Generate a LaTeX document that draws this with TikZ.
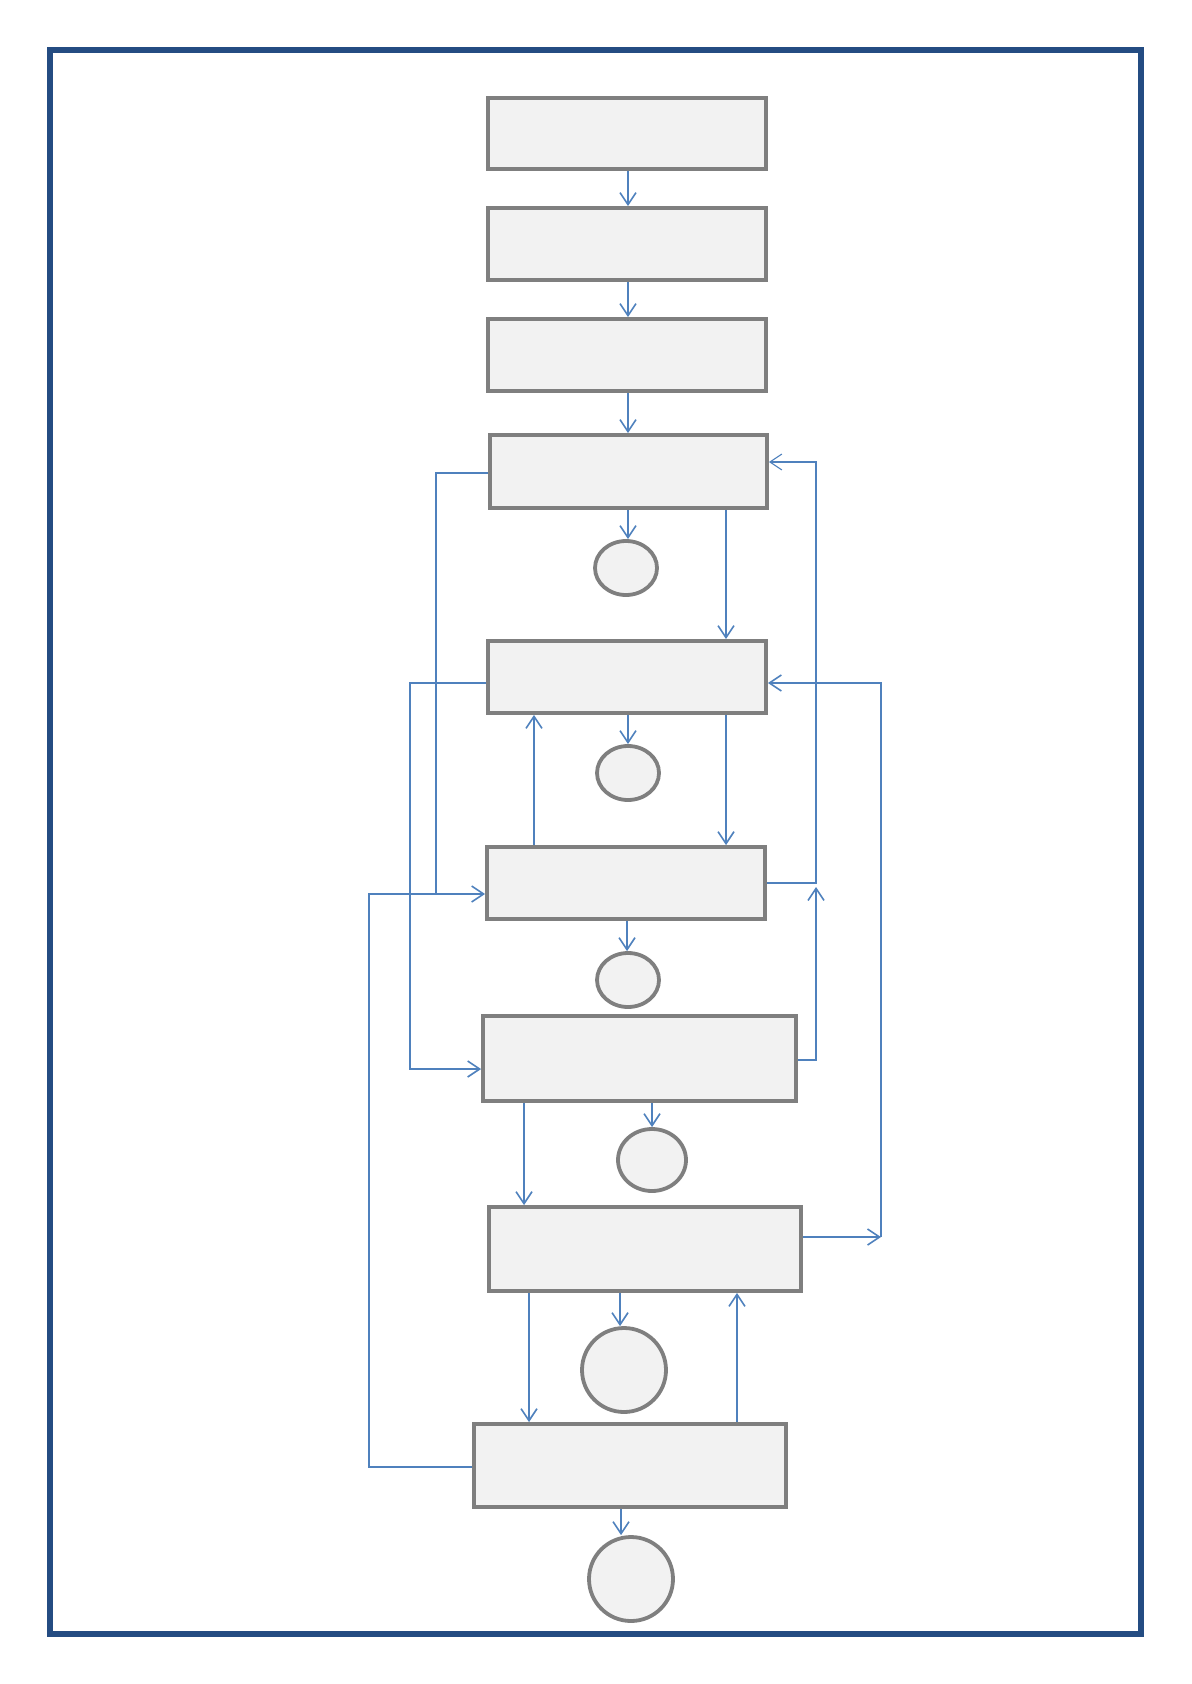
\documentclass[tikz,border=0pt]{standalone}
\usetikzlibrary{arrows.meta,shapes.geometric}
\definecolor{framec}{RGB}{36,76,130}
\definecolor{boxline}{RGB}{127,127,127}
\definecolor{boxfill}{RGB}{242,242,242}
\definecolor{conc}{RGB}{79,129,189}
\tikzset{
  box/.style={draw=boxline, fill=boxfill, line width=1.9pt, inner sep=0pt, rectangle},
  oval/.style={draw=boxline, fill=boxfill, line width=1.9pt, inner sep=0pt, ellipse},
  conn/.style={draw=conc, line width=0.8pt},
  thinconn/.style={draw=conc, line width=0.55pt},
  arr/.style={conn, -{Straight Barb[length=6pt,width=8pt]}},
  thinarr/.style={thinconn, -{Straight Barb[length=6pt,width=8pt]}},
}
\begin{document}
\begin{tikzpicture}[x=0.5pt,y=-0.5pt]
\useasboundingbox (0,0) rectangle (1191,1684);
\draw[framec, line width=3pt] (50,50) rectangle (1141,1634);

% boxes
\node[box, minimum width=139pt, minimum height=35.5pt] (b1) at (627,133.5) {};
\node[box, minimum width=139pt, minimum height=36pt] (b2) at (627,244) {};
\node[box, minimum width=139pt, minimum height=36pt] (b3) at (627,355) {};
\node[box, minimum width=138.5pt, minimum height=36.5pt] (b4) at (628.5,471.5) {};
\node[box, minimum width=139pt, minimum height=36pt] (b5) at (627,677) {};
\node[box, minimum width=139pt, minimum height=36pt] (b6) at (626,883) {};
\node[box, minimum width=156.5pt, minimum height=42.5pt] (b7) at (639.5,1058.5) {};
\node[box, minimum width=156pt, minimum height=42pt] (b8) at (645,1249) {};
\node[box, minimum width=156pt, minimum height=41.5pt] (b9) at (630,1465.5) {};

% ovals
\node[oval, minimum width=31pt, minimum height=27pt] (e1) at (626,568) {};
\node[oval, minimum width=31pt, minimum height=27pt] (e2) at (628,773) {};
\node[oval, minimum width=31pt, minimum height=27pt] (e3) at (628,980) {};
\node[oval, minimum width=34pt, minimum height=31pt] (e4) at (652,1160) {};
\node[oval, minimum width=42pt, minimum height=42pt] (e5) at (624,1370) {};
\node[oval, minimum width=42pt, minimum height=42pt] (e6) at (631,1579) {};

% column / turn coordinates
\coordinate (cM) at (628,0);
\coordinate (cM3) at (627,0);
\coordinate (cM8) at (620,0);
\coordinate (cM9) at (621,0);
\coordinate (cA) at (726,0);
\coordinate (cB) at (534,0);
\coordinate (cC) at (524,0);
\coordinate (cD) at (529,0);
\coordinate (cE) at (737,0);
\coordinate (r1top) at (816,462);
\coordinate (r1bot) at (816,883);
\coordinate (r1b7) at (816,1060);
\coordinate (r1join) at (816,887);
\coordinate (r2top) at (881,683);
\coordinate (r2bot) at (881,1237);
\coordinate (l1top) at (436,473);
\coordinate (l1bot) at (436,894);
\coordinate (l2top) at (410,683);
\coordinate (l2bot) at (410,1069);
\coordinate (l3top) at (369,894);
\coordinate (l3bot) at (369,1467);

% main chain
\draw[arr] (b1.south -| cM) -- (b2.north -| cM);
\draw[arr] (b2.south -| cM) -- (b3.north -| cM);
\draw[arr] (b3.south -| cM) -- (b4.north -| cM);

% to ovals
\draw[arr] (b4.south -| cM) -- (e1.north -| cM);
\draw[arr] (b5.south -| cM) -- (e2.north -| cM);
\draw[arr] (b6.south -| cM3) -- (e3.north -| cM3);
\draw[arr] (e4.north |- b7.south) -- (e4.north);
\draw[arr] (b8.south -| cM8) -- (e5.north -| cM8);
\draw[arr] (b9.south -| cM9) -- (e6.north -| cM9);

% vertical links between boxes
\draw[arr] (b4.south -| cA) -- (b5.north -| cA);
\draw[arr] (b5.south -| cA) -- (b6.north -| cA);
\draw[arr] (b6.north -| cB) -- (b5.south -| cB);
\draw[arr] (b7.south -| cC) -- (b8.north -| cC);
\draw[arr] (b8.south -| cD) -- (b9.north -| cD);
\draw[arr] (b9.north -| cE) -- (b8.south -| cE);

% right side loops
\draw[thinarr] (b6.east |- r1bot) -- (r1bot) -- (r1top) -- (b4.east |- r1top);
\draw[arr] (b7.east |- r1b7) -- (r1b7) -- (r1join);
\draw[arr] (b8.east |- r2bot) -- (r2bot);
\draw[arr] (r2bot) -- (r2top) -- (b5.east |- r2top);

% left side loops
\draw[thinconn] (b4.west |- l1top) -- (l1top) -- (l1bot);
\draw[arr] (b5.west |- l2top) -- (l2top) -- (l2bot) -- (b7.west |- l2bot);
\draw[arr] (b9.west |- l3bot) -- (l3bot) -- (l3top) -- (b6.west |- l3top);
\end{tikzpicture}
\end{document}
